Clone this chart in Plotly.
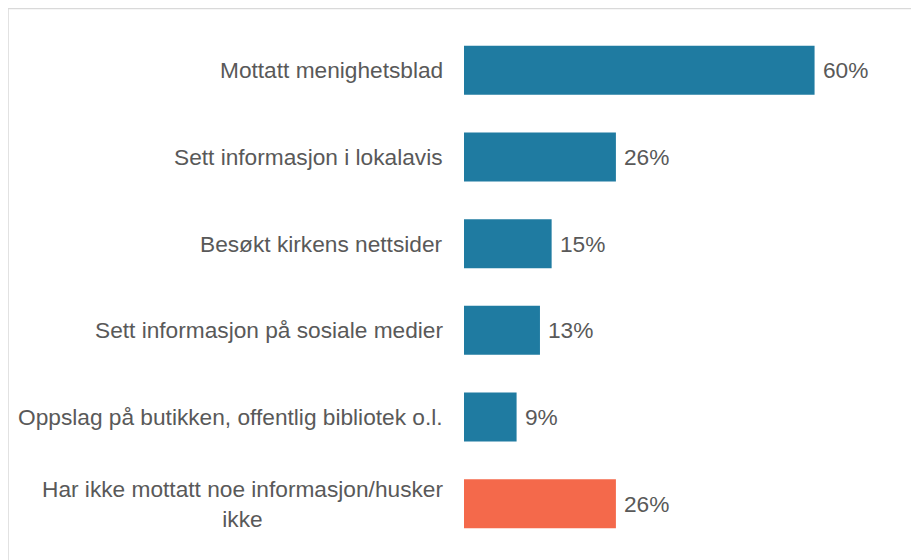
import plotly.graph_objects as go

categories = [
    "Mottatt menighetsblad",
    "Sett informasjon i lokalavis",
    "Besøkt kirkens nettsider",
    "Sett informasjon på sosiale medier",
    "Oppslag på butikken, offentlig bibliotek o.l.",
    "Har ikke mottatt noe informasjon/husker<br>ikke",
]
values = [60, 26, 15, 13, 9, 26]
bar_colors = ["#1F7BA1", "#1F7BA1", "#1F7BA1", "#1F7BA1", "#1F7BA1", "#F4694B"]

W, H = 919, 560
ML, MR, MT, MB = 456, 54, 19, 21
XMAX = 70
TEXT = "#595959"
FONT = "Liberation Sans, Arial, sans-serif"
FS = 22.7

fig = go.Figure(
    go.Bar(
        x=values,
        y=categories,
        orientation="h",
        marker=dict(color=bar_colors, line=dict(width=0)),
        hoverinfo="skip",
    )
)

for c, v in zip(categories, values):
    fig.add_annotation(x=v, y=c, xref="x", yref="y", text=f"{v}%", showarrow=False,
                       xanchor="left", xshift=6, font=dict(size=FS, color=TEXT, family=FONT))
    fig.add_annotation(x=0, y=c, xref="x", yref="y", text=c, showarrow=False,
                       xanchor="right", xshift=-19, align="center",
                       font=dict(size=FS, color=TEXT, family=FONT))

pw = W - ML - MR
ph = H - MT - MB
fig.add_shape(type="rect", xref="paper", yref="paper",
              x0=(0 - ML) / pw, x1=(W + 20 - ML) / pw,
              y0=-(MB + 20) / ph, y1=1 + (MT - 0.5) / ph,
              line=dict(color="#D9D9D9", width=1.5), fillcolor="rgba(0,0,0,0)", layer="below")

fig.update_layout(
    width=W, height=H,
    margin=dict(l=ML, r=MR, t=MT, b=MB),
    paper_bgcolor="white", plot_bgcolor="white",
    bargap=0.435,
    showlegend=False,
    font=dict(family=FONT, color=TEXT, size=FS),
    xaxis=dict(range=[0, XMAX], visible=False, fixedrange=True),
    yaxis=dict(autorange="reversed", showticklabels=False, showgrid=False, zeroline=False,
               showline=False, ticks="", fixedrange=True),
)

fig.write_html("out.html")
